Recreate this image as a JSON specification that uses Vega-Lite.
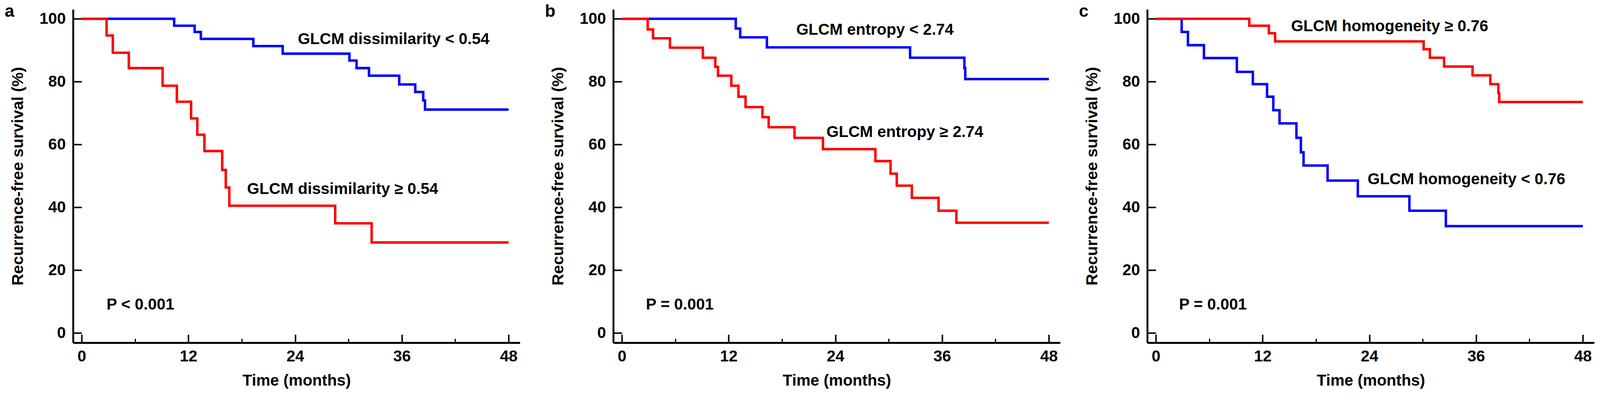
{
  "$schema": "https://vega.github.io/schema/vega-lite/v6.json",
  "padding": {"left": 12, "top": 8, "right": 5, "bottom": 5},
  "background": "white",
  "config": {
    "view": {"stroke": null},
    "font": "Liberation Sans",
    "axis": {
      "grid": false,
      "labelFont": "Liberation Sans",
      "labelFontSize": 40.4,
      "labelFontWeight": "bold",
      "labelColor": "black",
      "labelFlush": false,
      "labelOverlap": false,
      "domainColor": "black",
      "tickColor": "black",
      "titleFont": "Liberation Sans",
      "titleFontWeight": "bold",
      "titleColor": "black"
    },
    "text": {"font": "Liberation Sans"}
  },
  "datasets": {
    "km": [
      {"panel": "a", "group": "low", "t": 0, "s": 100},
      {"panel": "a", "group": "low", "t": 10.4, "s": 97.8},
      {"panel": "a", "group": "low", "t": 12.7, "s": 95.8},
      {"panel": "a", "group": "low", "t": 13.4, "s": 93.6},
      {"panel": "a", "group": "low", "t": 19.3, "s": 91.3},
      {"panel": "a", "group": "low", "t": 22.6, "s": 88.9},
      {"panel": "a", "group": "low", "t": 30.1, "s": 86.7},
      {"panel": "a", "group": "low", "t": 30.9, "s": 84.3},
      {"panel": "a", "group": "low", "t": 32.3, "s": 81.9},
      {"panel": "a", "group": "low", "t": 35.7, "s": 79.1},
      {"panel": "a", "group": "low", "t": 37.5, "s": 76.7},
      {"panel": "a", "group": "low", "t": 38.4, "s": 74.0},
      {"panel": "a", "group": "low", "t": 38.6, "s": 71.1},
      {"panel": "a", "group": "low", "t": 48, "s": 71.1},
      {"panel": "a", "group": "high", "t": 0, "s": 100},
      {"panel": "a", "group": "high", "t": 2.8, "s": 94.7},
      {"panel": "a", "group": "high", "t": 3.5, "s": 89.2},
      {"panel": "a", "group": "high", "t": 5.3, "s": 84.3},
      {"panel": "a", "group": "high", "t": 9.1, "s": 78.7},
      {"panel": "a", "group": "high", "t": 10.7, "s": 73.6},
      {"panel": "a", "group": "high", "t": 12.3, "s": 68.3},
      {"panel": "a", "group": "high", "t": 13.0, "s": 63.1},
      {"panel": "a", "group": "high", "t": 13.8, "s": 57.9},
      {"panel": "a", "group": "high", "t": 15.8, "s": 51.9},
      {"panel": "a", "group": "high", "t": 16.2, "s": 46.3},
      {"panel": "a", "group": "high", "t": 16.6, "s": 40.5},
      {"panel": "a", "group": "high", "t": 28.5, "s": 34.9},
      {"panel": "a", "group": "high", "t": 32.6, "s": 28.8},
      {"panel": "a", "group": "high", "t": 48, "s": 28.8},
      {"panel": "b", "group": "low", "t": 0, "s": 100},
      {"panel": "b", "group": "low", "t": 12.8, "s": 96.9},
      {"panel": "b", "group": "low", "t": 13.3, "s": 94.1},
      {"panel": "b", "group": "low", "t": 16.3, "s": 90.9},
      {"panel": "b", "group": "low", "t": 32.4, "s": 87.6},
      {"panel": "b", "group": "low", "t": 38.5, "s": 84.3},
      {"panel": "b", "group": "low", "t": 38.6, "s": 80.8},
      {"panel": "b", "group": "low", "t": 48, "s": 80.8},
      {"panel": "b", "group": "high", "t": 0, "s": 100},
      {"panel": "b", "group": "high", "t": 2.9, "s": 96.6},
      {"panel": "b", "group": "high", "t": 3.5, "s": 93.8},
      {"panel": "b", "group": "high", "t": 5.4, "s": 90.8},
      {"panel": "b", "group": "high", "t": 9.1, "s": 87.6},
      {"panel": "b", "group": "high", "t": 10.5, "s": 84.7},
      {"panel": "b", "group": "high", "t": 10.8, "s": 81.9},
      {"panel": "b", "group": "high", "t": 12.3, "s": 78.7},
      {"panel": "b", "group": "high", "t": 13.1, "s": 75.2},
      {"panel": "b", "group": "high", "t": 13.9, "s": 71.9},
      {"panel": "b", "group": "high", "t": 15.8, "s": 68.7},
      {"panel": "b", "group": "high", "t": 16.5, "s": 65.5},
      {"panel": "b", "group": "high", "t": 19.4, "s": 62.1},
      {"panel": "b", "group": "high", "t": 22.6, "s": 58.5},
      {"panel": "b", "group": "high", "t": 28.5, "s": 54.7},
      {"panel": "b", "group": "high", "t": 30.2, "s": 50.7},
      {"panel": "b", "group": "high", "t": 30.9, "s": 46.9},
      {"panel": "b", "group": "high", "t": 32.6, "s": 43.0},
      {"panel": "b", "group": "high", "t": 35.6, "s": 38.9},
      {"panel": "b", "group": "high", "t": 37.6, "s": 35.1},
      {"panel": "b", "group": "high", "t": 48, "s": 35.1},
      {"panel": "c", "group": "low", "t": 0, "s": 100},
      {"panel": "c", "group": "low", "t": 2.9, "s": 95.8},
      {"panel": "c", "group": "low", "t": 3.6, "s": 91.6},
      {"panel": "c", "group": "low", "t": 5.4, "s": 87.5},
      {"panel": "c", "group": "low", "t": 9.1, "s": 83.1},
      {"panel": "c", "group": "low", "t": 10.9, "s": 79.2},
      {"panel": "c", "group": "low", "t": 12.5, "s": 75.2},
      {"panel": "c", "group": "low", "t": 13.2, "s": 70.9},
      {"panel": "c", "group": "low", "t": 13.9, "s": 66.7},
      {"panel": "c", "group": "low", "t": 15.8, "s": 62.1},
      {"panel": "c", "group": "low", "t": 16.3, "s": 57.5},
      {"panel": "c", "group": "low", "t": 16.6, "s": 53.3},
      {"panel": "c", "group": "low", "t": 19.3, "s": 48.5},
      {"panel": "c", "group": "low", "t": 22.7, "s": 43.5},
      {"panel": "c", "group": "low", "t": 28.5, "s": 38.9},
      {"panel": "c", "group": "low", "t": 32.6, "s": 34.0},
      {"panel": "c", "group": "low", "t": 48, "s": 34.0},
      {"panel": "c", "group": "high", "t": 0, "s": 100},
      {"panel": "c", "group": "high", "t": 10.5, "s": 97.8},
      {"panel": "c", "group": "high", "t": 12.7, "s": 95.4},
      {"panel": "c", "group": "high", "t": 13.4, "s": 92.8},
      {"panel": "c", "group": "high", "t": 30.1, "s": 90.3},
      {"panel": "c", "group": "high", "t": 30.8, "s": 87.6},
      {"panel": "c", "group": "high", "t": 32.4, "s": 84.8},
      {"panel": "c", "group": "high", "t": 35.6, "s": 82.0},
      {"panel": "c", "group": "high", "t": 37.6, "s": 79.2},
      {"panel": "c", "group": "high", "t": 38.5, "s": 76.3},
      {"panel": "c", "group": "high", "t": 38.6, "s": 73.5},
      {"panel": "c", "group": "high", "t": 48, "s": 73.5}
    ],
    "labels": [
      {"panel": "a", "t": 24.3, "s": 92.0, "text": "GLCM dissimilarity < 0.54"},
      {"panel": "a", "t": 18.6, "s": 44.2, "text": "GLCM dissimilarity ≥ 0.54"},
      {"panel": "a", "t": 2.8, "s": 7.4, "text": "P < 0.001"},
      {"panel": "b", "t": 19.6, "s": 94.9, "text": "GLCM entropy < 2.74"},
      {"panel": "b", "t": 23.0, "s": 62.4, "text": "GLCM entropy ≥ 2.74"},
      {"panel": "b", "t": 2.7, "s": 7.4, "text": "P = 0.001"},
      {"panel": "c", "t": 15.2, "s": 96.1, "text": "GLCM homogeneity ≥ 0.76"},
      {"panel": "c", "t": 23.8, "s": 47.3, "text": "GLCM homogeneity < 0.76"},
      {"panel": "c", "t": 2.6, "s": 7.4, "text": "P = 0.001"}
    ],
    "letters": [
      {"panel": "a", "t": -8.65, "s": 100.6, "text": "a"},
      {"panel": "b", "t": -8.65, "s": 100.6, "text": "b"},
      {"panel": "c", "t": -8.65, "s": 100.6, "text": "c"}
    ]
  },
  "spacing": 64,
  "hconcat": [
    {
      "width": 1144, "height": 854,
      "resolve": {"axis": {"x": "independent"}},
      "encoding": {
        "y": {"field": "s", "type": "quantitative", "scale": {"domain": [-3.1, 103], "nice": false, "zero": false},
              "axis": {"values": [0, 20, 40, 60, 80, 100], "tickSize": -22, "tickWidth": 3.8, "domainWidth": 4.8, "labelPadding": 41, "title": "Recurrence-free survival (%)", "titleFontSize": 41.3, "titlePadding": 33}}
      },
      "layer": [
        {
          "data": {"name": "km"},
          "transform": [{"filter": "datum.panel === 'a'"}],
          "mark": {"type": "line", "interpolate": "step-after", "strokeWidth": 6.3},
          "encoding": {
            "x": {"field": "t", "type": "quantitative", "scale": {"domain": [-0.97, 49.27], "nice": false, "zero": false},
                  "axis": {"orient": "bottom", "values": [0, 12, 24, 36, 48], "tickSize": -21, "tickWidth": 3.8, "domainWidth": 4.8, "labelPadding": 36.5, "title": "Time (months)", "titleFontSize": 40.4, "titlePadding": 22}},
            "color": {"field": "group", "type": "nominal", "scale": {"domain": ["low", "high"], "range": ["#0000ff", "#ff0000"]}, "legend": null}
          }
        },
        {
          "data": {"name": "labels"},
          "transform": [{"filter": "datum.panel === 'a'"}],
          "mark": {"type": "text", "align": "left", "baseline": "alphabetic", "fontSize": 40.4, "fontWeight": "bold", "color": "black"},
          "encoding": {
            "x": {"field": "t", "type": "quantitative", "scale": {"domain": [-0.97, 49.27], "nice": false, "zero": false},
                  "axis": {"orient": "bottom", "values": [6, 18, 30, 42], "tickSize": -10.5, "tickWidth": 3, "domain": false, "labels": false, "title": null}},
            "text": {"field": "text"}
          }
        },
        {
          "data": {"name": "letters"},
          "transform": [{"filter": "datum.panel === 'a'"}],
          "mark": {"type": "text", "align": "left", "baseline": "alphabetic", "fontSize": 44, "fontWeight": "bold", "color": "black"},
          "encoding": {
            "x": {"field": "t", "type": "quantitative", "scale": {"domain": [-0.97, 49.27], "nice": false, "zero": false}, "axis": null},
            "text": {"field": "text"}
          }
        }
      ]
    },
    {
      "spacing": 48,
      "hconcat": [
        {
          "width": 1144, "height": 854,
          "resolve": {"axis": {"x": "independent"}},
          "encoding": {
            "y": {"field": "s", "type": "quantitative", "scale": {"domain": [-3.1, 103], "nice": false, "zero": false},
                  "axis": {"values": [0, 20, 40, 60, 80, 100], "tickSize": -22, "tickWidth": 3.8, "domainWidth": 4.8, "labelPadding": 41, "title": "Recurrence-free survival (%)", "titleFontSize": 41.3, "titlePadding": 33}}
          },
          "layer": [
            {
              "data": {"name": "km"},
              "transform": [{"filter": "datum.panel === 'b'"}],
              "mark": {"type": "line", "interpolate": "step-after", "strokeWidth": 6.3},
              "encoding": {
                "x": {"field": "t", "type": "quantitative", "scale": {"domain": [-0.97, 49.27], "nice": false, "zero": false},
                      "axis": {"orient": "bottom", "values": [0, 12, 24, 36, 48], "tickSize": -21, "tickWidth": 3.8, "domainWidth": 4.8, "labelPadding": 36.5, "title": "Time (months)", "titleFontSize": 40.4, "titlePadding": 22}},
                "color": {"field": "group", "type": "nominal", "scale": {"domain": ["low", "high"], "range": ["#0000ff", "#ff0000"]}, "legend": null}
              }
            },
            {
              "data": {"name": "labels"},
              "transform": [{"filter": "datum.panel === 'b'"}],
              "mark": {"type": "text", "align": "left", "baseline": "alphabetic", "fontSize": 40.4, "fontWeight": "bold", "color": "black"},
              "encoding": {
                "x": {"field": "t", "type": "quantitative", "scale": {"domain": [-0.97, 49.27], "nice": false, "zero": false},
                      "axis": {"orient": "bottom", "values": [6, 18, 30, 42], "tickSize": -10.5, "tickWidth": 3, "domain": false, "labels": false, "title": null}},
                "text": {"field": "text"}
              }
            },
            {
              "data": {"name": "letters"},
              "transform": [{"filter": "datum.panel === 'b'"}],
              "mark": {"type": "text", "align": "left", "baseline": "alphabetic", "fontSize": 44, "fontWeight": "bold", "color": "black"},
              "encoding": {
                "x": {"field": "t", "type": "quantitative", "scale": {"domain": [-0.97, 49.27], "nice": false, "zero": false}, "axis": null},
                "text": {"field": "text"}
              }
            }
          ]
        },
        {
          "width": 1144, "height": 854,
          "resolve": {"axis": {"x": "independent"}},
          "encoding": {
            "y": {"field": "s", "type": "quantitative", "scale": {"domain": [-3.1, 103], "nice": false, "zero": false},
                  "axis": {"values": [0, 20, 40, 60, 80, 100], "tickSize": -22, "tickWidth": 3.8, "domainWidth": 4.8, "labelPadding": 41, "title": "Recurrence-free survival (%)", "titleFontSize": 41.3, "titlePadding": 33}}
          },
          "layer": [
            {
              "data": {"name": "km"},
              "transform": [{"filter": "datum.panel === 'c'"}],
              "mark": {"type": "line", "interpolate": "step-after", "strokeWidth": 6.3},
              "encoding": {
                "x": {"field": "t", "type": "quantitative", "scale": {"domain": [-0.97, 49.27], "nice": false, "zero": false},
                      "axis": {"orient": "bottom", "values": [0, 12, 24, 36, 48], "tickSize": -21, "tickWidth": 3.8, "domainWidth": 4.8, "labelPadding": 36.5, "title": "Time (months)", "titleFontSize": 40.4, "titlePadding": 22}},
                "color": {"field": "group", "type": "nominal", "scale": {"domain": ["low", "high"], "range": ["#0000ff", "#ff0000"]}, "legend": null}
              }
            },
            {
              "data": {"name": "labels"},
              "transform": [{"filter": "datum.panel === 'c'"}],
              "mark": {"type": "text", "align": "left", "baseline": "alphabetic", "fontSize": 40.4, "fontWeight": "bold", "color": "black"},
              "encoding": {
                "x": {"field": "t", "type": "quantitative", "scale": {"domain": [-0.97, 49.27], "nice": false, "zero": false},
                      "axis": {"orient": "bottom", "values": [6, 18, 30, 42], "tickSize": -10.5, "tickWidth": 3, "domain": false, "labels": false, "title": null}},
                "text": {"field": "text"}
              }
            },
            {
              "data": {"name": "letters"},
              "transform": [{"filter": "datum.panel === 'c'"}],
              "mark": {"type": "text", "align": "left", "baseline": "alphabetic", "fontSize": 44, "fontWeight": "bold", "color": "black"},
              "encoding": {
                "x": {"field": "t", "type": "quantitative", "scale": {"domain": [-0.97, 49.27], "nice": false, "zero": false}, "axis": null},
                "text": {"field": "text"}
              }
            }
          ]
        }
      ]
    }
  ]
}
